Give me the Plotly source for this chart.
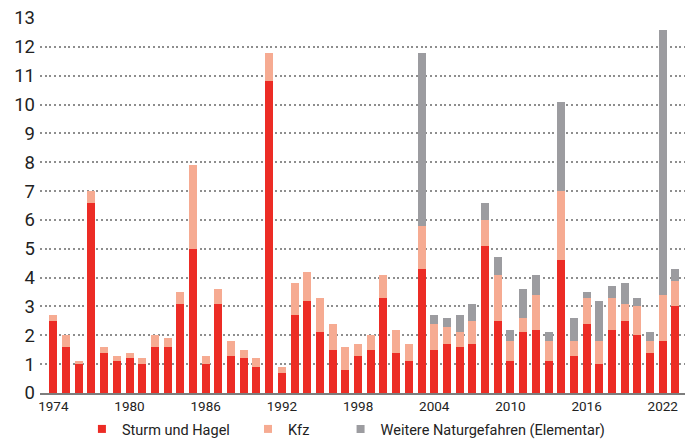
import plotly.graph_objects as go

# Insured losses per year, stacked by peril
years = list(range(1974, 2024))

sturm_hagel = [2.5, 1.6, 1.0, 6.6, 1.4, 1.1, 1.2, 1.0, 1.6, 1.6,
               3.1, 5.0, 1.0, 3.1, 1.3, 1.2, 0.9, 10.8, 0.7, 2.7,
               3.2, 2.1, 1.5, 0.8, 1.3, 1.5, 3.3, 1.4, 1.1, 4.3,
               1.5, 1.7, 1.6, 1.7, 5.1, 2.5, 1.1, 2.1, 2.2, 1.1,
               4.6, 1.3, 2.4, 1.0, 2.2, 2.5, 2.0, 1.4, 1.8, 3.0]

kfz = [0.2, 0.4, 0.1, 0.4, 0.2, 0.2, 0.2, 0.2, 0.4, 0.3,
       0.4, 2.9, 0.3, 0.5, 0.5, 0.3, 0.3, 1.0, 0.2, 1.1,
       1.0, 1.2, 0.9, 0.8, 0.4, 0.5, 0.8, 0.8, 0.6, 1.5,
       0.9, 0.6, 0.5, 0.8, 0.9, 1.6, 0.7, 0.5, 1.2, 0.7,
       2.4, 0.5, 0.9, 0.8, 1.1, 0.6, 1.0, 0.4, 1.6, 0.9]

elementar = [0, 0, 0, 0, 0, 0, 0, 0, 0, 0,
             0, 0, 0, 0, 0, 0, 0, 0, 0, 0,
             0, 0, 0, 0, 0, 0, 0, 0, 0, 6.0,
             0.3, 0.3, 0.6, 0.6, 0.6, 0.6, 0.4, 1.0, 0.7, 0.3,
             3.1, 0.8, 0.2, 1.4, 0.4, 0.7, 0.3, 0.3, 9.2, 0.4]

year_ticks = [1974, 1980, 1986, 1992, 1998, 2004, 2010, 2016, 2022]
y_ticks = list(range(0, 14))

RED = "#ec2c25"
SALMON = "#f6ab92"
GREY = "#9c9ca0"
FONT = "Roboto, Liberation Sans, Arial, sans-serif"

series = [
    ("Sturm und Hagel", sturm_hagel, RED, "legend"),
    ("Kfz", kfz, SALMON, "legend2"),
    ("Weitere Naturgefahren (Elementar)", elementar, GREY, "legend3"),
]

fig = go.Figure()
for name, vals, color, _ in series:
    fig.add_trace(go.Bar(
        x=years, y=vals, name=name, marker=dict(color=color, line=dict(width=0)),
        showlegend=False,
    ))

# small square swatches for the legend entries
for name, vals, color, leg in series:
    fig.add_trace(go.Scatter(
        x=[None], y=[None], mode="markers", name=name, legend=leg,
        marker=dict(symbol="square", size=8, color=color),
    ))

legend_common = dict(
    orientation="h", yanchor="middle", y=-0.096, xanchor="left",
    font=dict(family=FONT, size=14.5, color="#222222"),
    bgcolor="rgba(0,0,0,0)", itemwidth=30, tracegroupgap=0,
)

fig.update_layout(
    width=685, height=439,
    margin=dict(l=40, r=0, t=18, b=46, autoexpand=False),
    paper_bgcolor="white", plot_bgcolor="white",
    barmode="stack", bargap=0.37,
    font=dict(family=FONT, color="#222222"),
    xaxis=dict(
        range=[1972.95, 2023.75], tickvals=year_ticks,
        tickfont=dict(size=13.5, color="#222222"),
        showgrid=False, zeroline=False,
        showline=True, linecolor="#7d7d7d", linewidth=2,
        ticks="", fixedrange=True,
    ),
    yaxis=dict(
        range=[0, 13], tickvals=y_ticks,
        tickfont=dict(size=18.5, color="#222222"),
        showgrid=True, gridcolor="#8e8e8e", gridwidth=2, griddash="2px,2.7px",
        zeroline=False, showline=False, ticks="", ticklabelstandoff=4,
        fixedrange=True,
    ),
    legend=dict(x=0.065, **legend_common),
    legend2=dict(x=0.3225, **legend_common),
    legend3=dict(x=0.466, **legend_common),
)

fig.write_html("out.html")
